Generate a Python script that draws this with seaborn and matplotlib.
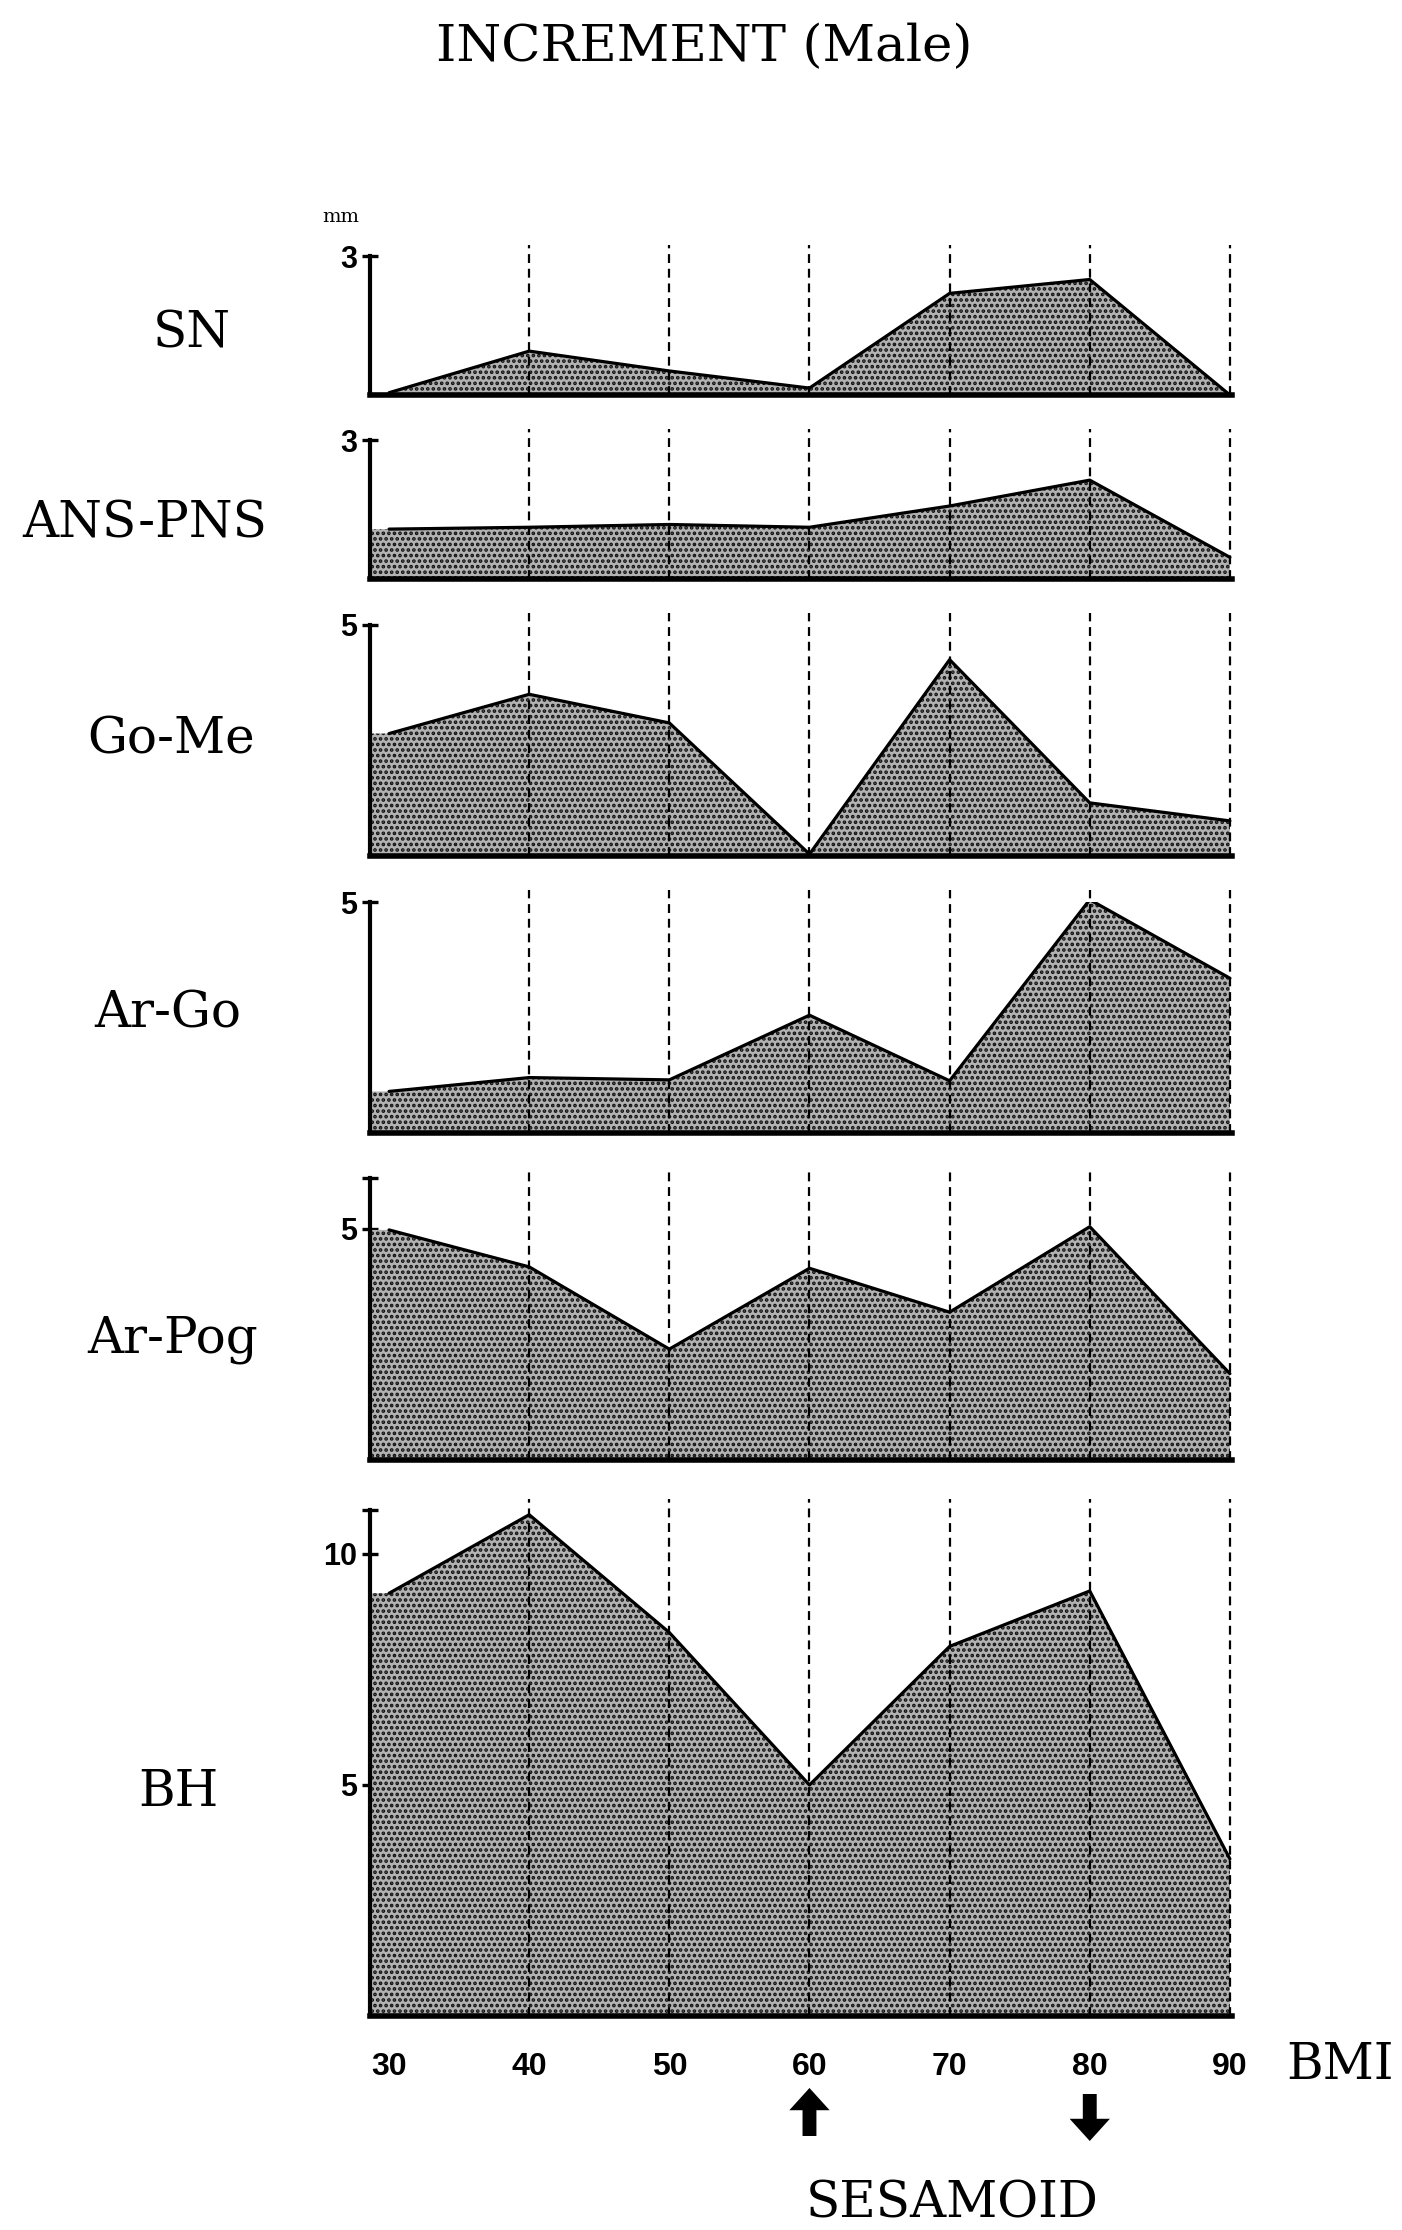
import numpy as np
import pandas as pd
import matplotlib
matplotlib.use("Agg")
import matplotlib.pyplot as plt
import seaborn as sns

# ---------------- data ----------------
bmi = [30, 40, 50, 60, 70, 80, 90]
sn = [0.05, 0.95, 0.52, 0.15, 2.2, 2.5, 0.0]
ans_pns = [1.08, 1.12, 1.18, 1.12, 1.58, 2.14, 0.47]
go_me = [2.65, 3.5, 2.88, 0.04, 4.25, 1.15, 0.76]
ar_go = [0.9, 1.2, 1.15, 2.55, 1.13, 5.05, 3.35]
ar_pog = [4.98, 4.18, 2.4, 4.15, 3.2, 5.05, 1.87]
bh = [9.15, 10.85, 8.3, 5.0, 8.0, 9.2, 3.4]

measures = ["SN", "ANS-PNS", "Go-Me", "Ar-Go", "Ar-Pog", "BH"]
series = [sn, ans_pns, go_me, ar_go, ar_pog, bh]
y_tick_values = [[3], [3], [5], [5], [5], [5, 10]]
y_tops = [3, 3, 5, 5, 6.1, 10.95]
x_tick_values = [30, 40, 50, 60, 70, 80, 90]
grid_bmi = [40, 50, 60, 70, 80, 90]
sesamoid_up = 60
sesamoid_down = 80

# ---------------- style ----------------
sns.set_theme(style="white")
SERIF = ["DejaVu Serif", "Liberation Serif"]
TICK_FONT = ["Liberation Sans", "DejaVu Sans"]
plt.rcParams["font.family"] = SERIF
plt.rcParams["hatch.linewidth"] = 1.8

W, H = 1402, 2230
fig = plt.figure(figsize=(W / 100, H / 100), dpi=100)
fig.patch.set_facecolor("white")

PX_PER_MM = 46.2
base_px = [395, 579, 856, 1133, 1460, 2016]
label_pos = [(192, 348), (145, 537), (171, 754), (168, 1027), (173, 1352), (178, 1806)]
ax_left, ax_right = 370, 1232
xlim = (28.64, 90.15)
LABEL_SIZE = 36


def fx(x):
    return x / W


def fy(y):
    return 1 - y / H


axes = []
for i, (name, vals) in enumerate(zip(measures, series)):
    top = y_tops[i]
    h = top * PX_PER_MM
    ax = fig.add_axes([fx(ax_left), fy(base_px[i]), (ax_right - ax_left) / W, h / H])
    ax.set_facecolor("none")
    df = pd.DataFrame({"BMI": bmi, "value": vals})
    ax.fill_between([xlim[0]] + bmi, [vals[0]] + vals, 0,
                    facecolor="#b2b2b2", edgecolor="#111111", hatch="...",
                    linewidth=0, zorder=1)
    sns.lineplot(data=df, x="BMI", y="value", ax=ax, color="black",
                 linewidth=2.3, sort=False, zorder=3)
    ax.vlines(grid_bmi, 0, top + 0.25, colors="black", linestyles=(0, (4, 2.6)),
              linewidth=1.6, zorder=4, clip_on=False)
    ax.set_xlim(*xlim)
    ax.set_ylim(0, top)
    ax.set_xlabel("")
    ax.set_ylabel("")
    for s in ["top", "right"]:
        ax.spines[s].set_visible(False)
    ax.spines["left"].set_linewidth(3)
    ax.spines["bottom"].set_linewidth(4)
    ax.spines["left"].set_color("black")
    ax.spines["bottom"].set_color("black")
    ax.spines["left"].set_zorder(5)
    ax.spines["bottom"].set_zorder(5)

    ax.set_yticks(y_tick_values[i])
    ax.set_yticklabels([str(v) for v in y_tick_values[i]],
                       fontfamily=TICK_FONT, fontweight="bold", fontsize=22)
    ax.tick_params(axis="y", direction="inout", length=11, width=2.4, pad=4,
                   left=True, colors="black")
    if top not in y_tick_values[i]:
        ax.set_yticks([top], minor=True)
        ax.tick_params(axis="y", which="minor", direction="inout", length=11,
                       width=2.4, left=True, colors="black")

    if i == len(measures) - 1:
        ax.set_xticks(x_tick_values)
        ax.set_xticklabels([str(v) for v in x_tick_values],
                           fontfamily=TICK_FONT, fontweight="bold", fontsize=23)
        ax.tick_params(axis="x", length=0, pad=26, colors="black")
    else:
        ax.set_xticks([])

    lx, ly = label_pos[i]
    fig.text(fx(lx), fy(ly), name, ha="center", va="baseline",
             fontfamily=SERIF, fontsize=LABEL_SIZE, color="black")
    axes.append(ax)

# titles and annotations
fig.text(fx(704), fy(61), "INCREMENT (Male)", ha="center", va="baseline",
         fontfamily=SERIF, fontsize=LABEL_SIZE + 1, color="black")
fig.text(fx(341), fy(222), "mm", ha="center", va="baseline",
         fontfamily=SERIF, fontsize=14, color="black")
fig.text(fx(1340), fy(2079), "BMI", ha="center", va="baseline",
         fontfamily=SERIF, fontsize=LABEL_SIZE, color="black")
fig.text(fx(952), fy(2217), "SESAMOID", ha="center", va="baseline",
         fontfamily=SERIF, fontsize=LABEL_SIZE, color="black")

ax_bh = axes[-1]
arrow_style = "simple,head_length=0.8,head_width=1.45,tail_width=0.5"
for xv, tip, tail in [(sesamoid_up, 2088, 2136), (sesamoid_down, 2141, 2094)]:
    ax_bh.annotate("", xy=(xv, H - tip), xytext=(xv, H - tail),
                   xycoords=("data", "figure pixels"),
                   textcoords=("data", "figure pixels"),
                   arrowprops=dict(arrowstyle=arrow_style, mutation_scale=20,
                                   fc="black", ec="black", lw=0,
                                   shrinkA=0, shrinkB=0),
                   annotation_clip=False)

fig.savefig("out.png", dpi=100, facecolor="white")
